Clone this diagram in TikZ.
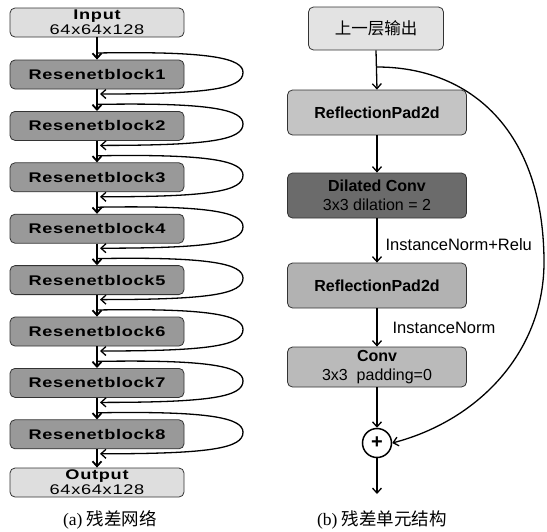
\documentclass[tikz,border=0pt]{standalone}
\usepackage{fontspec}
\setmainfont{Liberation Serif}
\setsansfont{Liberation Sans}
\newfontfamily\lfont{Liberation Sans}[FakeStretch=1.3,LetterSpace=5]
\newfontfamily\rfont{Liberation Sans}
\newfontfamily\cjk{Noto Sans CJK SC}
\usetikzlibrary{arrows.meta}
\begin{document}
\begin{tikzpicture}[x=1pt,y=-1pt,
  basebox/.style={draw=black!80, line width=0.8pt, rounded corners=5pt, inner sep=0pt, align=center},
  lbox/.style={basebox, minimum width=174pt, minimum height=29pt, font=\lfont\fontsize{14}{15}\selectfont},
  iobox/.style={lbox, fill=black!13},
  blk/.style={lbox, fill=black!40, font=\lfont\bfseries\fontsize{14}{15}\selectfont},
  rbox/.style={basebox, minimum width=179pt, minimum height=45pt, font=\rfont\fontsize{16}{19}\selectfont},
  larr/.style={line width=1.8pt, -{Straight Barb[length=5pt,width=9pt]}},
  skipline/.style={line width=1.3pt, -{Straight Barb[length=5pt,width=9pt]}},
  rarr/.style={line width=1.3pt, -{Straight Barb[length=5pt,width=9pt]}},
  lab/.style={font=\rfont\fontsize{16.5}{19}\selectfont, inner sep=0pt, anchor=west},
  captext/.style={font=\fontsize{17.5}{19}\selectfont, inner sep=0pt}
]
\useasboundingbox (0,0) rectangle (547,531);
% left column
\node[iobox] (in) at (97,22.5) {{\bfseries Input}\\64x64x128};
\foreach \i in {1,...,8} {
  \pgfmathsetmacro\cy{74.5+(\i-1)*51.4}
  \node[blk] (b\i) at (97,\cy) {Resenetblock\i};
  \coordinate (s\i) at (97,\cy-21.5);
  \coordinate (r\i) at (243,\cy-2);
  \coordinate (e\i) at (100,\cy+19.5);
}
\node[iobox] (outp) at (97,482.5) {{\bfseries Output}\\64x64x128};
\draw[larr] (in.south) -- (b1.north);
\foreach \i [evaluate=\i as \j using int(\i+1)] in {1,...,7} {
  \draw[larr] (b\i.south) -- (b\j.north);
}
\draw[larr] (b8.south) -- (outp.north);
\foreach \i in {1,...,8} {
  \draw[skipline] (s\i) .. controls +(115,-2) and +(0,-14) .. (r\i)
     .. controls +(0,16) and +(110,0) .. (e\i);
}
\node[captext] (capa) at (110,520) {(a) {\cjk 残差网络}};
% right column
\node[basebox, fill=black!11, minimum width=135pt, minimum height=43pt, font=\cjk\fontsize{16.5}{19}\selectfont] (prev) at (376,28.5) {上一层输出};
\node[rbox, fill=black!23, font=\rfont\bfseries\fontsize{16}{19}\selectfont] (rp1) at (377,112.5) {ReflectionPad2d};
\node[rbox, fill=black!58] (dc) at (377,195.5) {{\bfseries Dilated Conv}\\3x3 dilation = 2};
\node[rbox, fill=black!30, font=\rfont\bfseries\fontsize{16}{19}\selectfont] (rp2) at (377,285.5) {ReflectionPad2d};
\node[rbox, fill=black!27, minimum height=40pt] (cv) at (377,367) {{\bfseries Conv}\\3x3\ \ padding=0};
\node[circle, draw=black, line width=1.5pt, minimum size=29pt, inner sep=0pt, font=\rfont\bfseries\fontsize{20}{20}\selectfont] (sum) at (377,443) {+};
\coordinate (br) at (377,67);
\coordinate (outr) at (377,494);
\draw[rarr] (prev.south) -- (rp1.north);
\draw[rarr] (rp1.south) -- (dc.north);
\draw[rarr] (dc.south) -- node[lab, pos=0.6, xshift=8pt] (l1) {InstanceNorm+Relu} (rp2.north);
\draw[rarr] (rp2.south) -- node[lab, pos=0.5, xshift=15pt] (l2) {InstanceNorm} (cv.north);
\draw[rarr] (cv.south) -- (sum.north);
\draw[rarr] (sum.south) -- (outr);
\draw[skipline] (br) .. controls (470,67) and (543,130) .. (544,260)
   .. controls (545,350) and (480,420) .. (sum.east);
\node[captext] (capb) at (382,520) {(b) {\cjk 残差单元结构}};
\end{tikzpicture}
\end{document}
